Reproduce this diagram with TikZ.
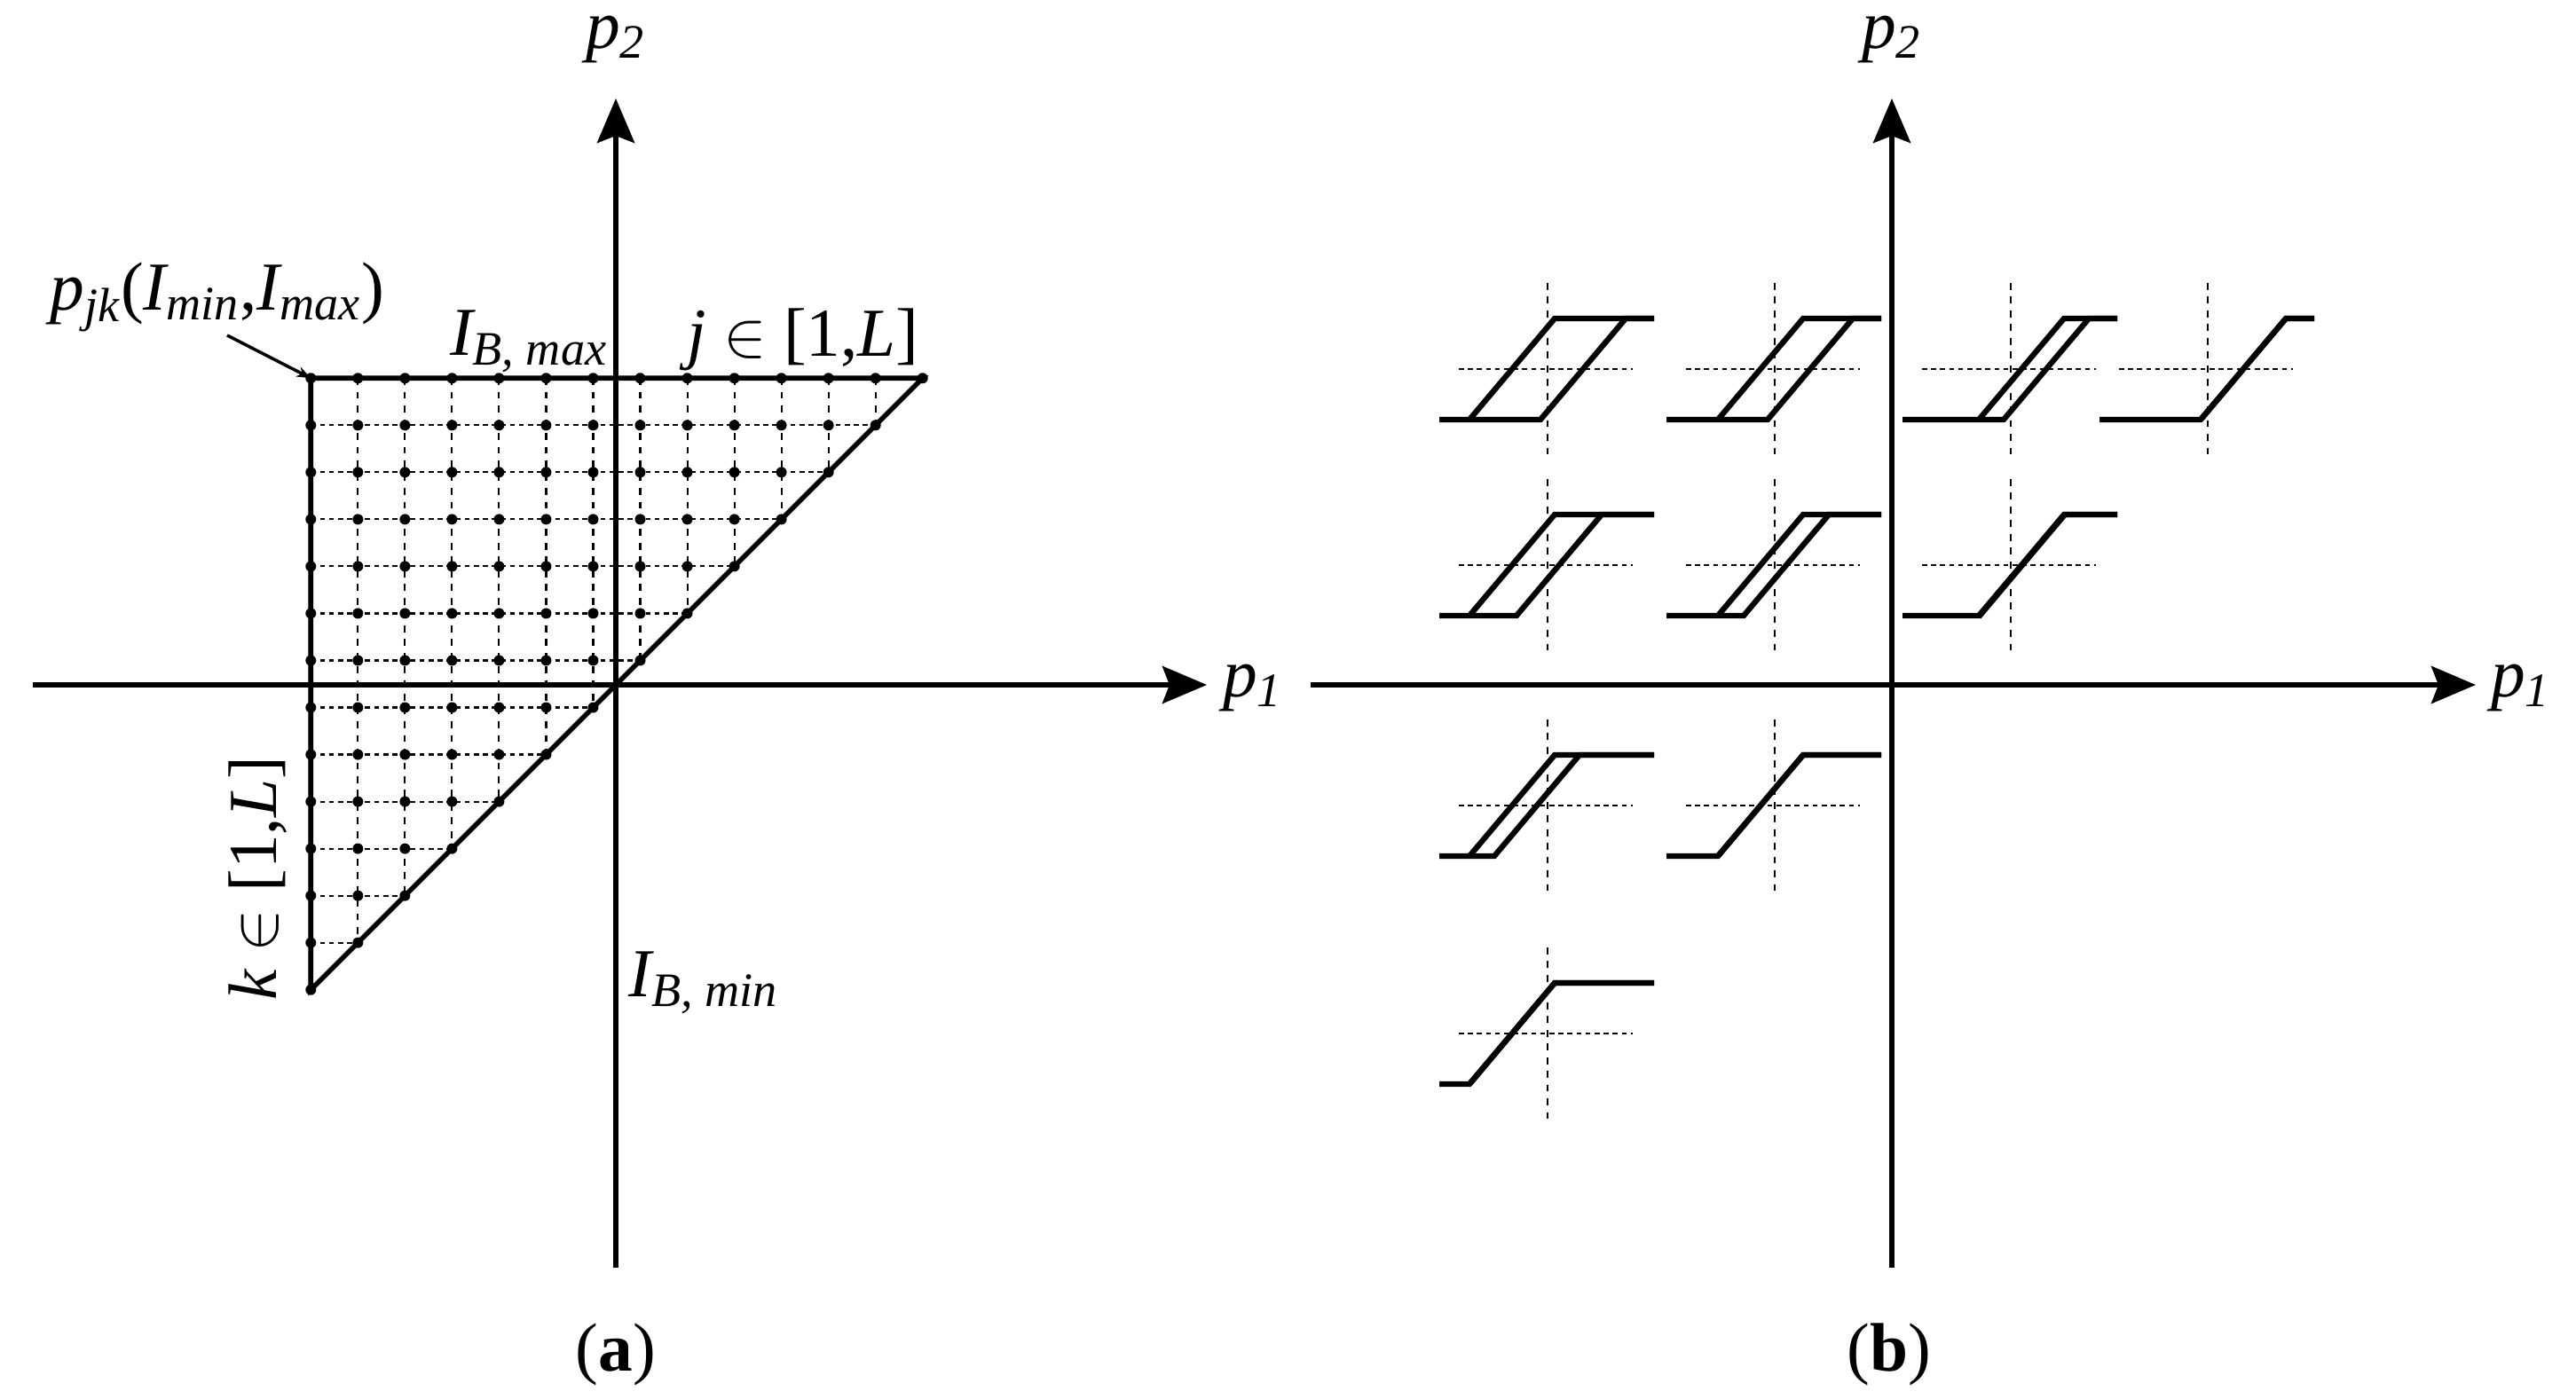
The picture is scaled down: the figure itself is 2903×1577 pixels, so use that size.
\documentclass[tikz,border=0pt]{standalone}
\usepackage{fontspec}
\setmainfont{Liberation Serif}
\usetikzlibrary{arrows.meta}
\newcommand{\up}[1]{{\upshape #1}}
\newcommand{\hloop}[4]{%
  \draw[thinv] (#1,{#2-97}) -- (#1,{#2+97});
  \draw[thinh] ({#1-100},#2) -- ({#1+96},#2);
  \draw[curve] ({#1-122},{#2+57}) -- ({#1+(#4)-48},{#2+57}) -- ({#1+(#4)+48},{#2-57}) -- ({#1+120},{#2-57});
  \draw[curve] ({#1+(#3)-48},{#2+57}) -- ({#1+(#3)+48},{#2-57}) -- ({#1+120},{#2-57});
}
\begin{document}
\begin{tikzpicture}[x=0.01cm,y=-0.01cm,
  axis/.style={line width=1.6pt,-{Stealth[length=0.5cm,width=0.42cm,inset=0.08cm]}},
  solid line/.style={line width=1.6pt},
  curve/.style={line width=1.8pt,line join=miter},
  thinv/.style={line width=0.6pt,dash pattern=on 2.2pt off 2.2pt},
  thinh/.style={line width=0.6pt,dash pattern=on 1.6pt off 1.3pt},
  lbl/.style={font=\fontsize{22}{26}\selectfont\itshape,inner sep=0pt}]
\useasboundingbox (0,0) rectangle (2903,1577);
% ---- panel (a)
\draw[axis] (694,1429) -- (694,111);
\draw[axis] (37,772) -- (1360,772);
\begin{scope}[shift={(695,771)},x=0.53cm,y=0.53cm]
  \foreach \m in {-5,...,6}{
    \pgfmathsetmacro\i{\m-0.5}
    \draw[thinv] (\i,6.5) -- (\i,\i);
    \draw[thinh] (-6.5,\i) -- (\i,\i);
  }
  \draw[solid line] (-6.5,-6.5) -- (-6.5,6.5) -- (6.5,6.5) -- cycle;
  \foreach \m in {-6,...,7}{
    \foreach \n in {\m,...,7}{
      \pgfmathsetmacro\i{\m-0.5}
      \pgfmathsetmacro\j{\n-0.5}
      \fill (\i,\j) circle (0.06cm);
    }
  }
  \coordinate (corner) at (-6.5,6.5);
\end{scope}
\node[lbl] (p2a) at (694,45) {p\textsubscript{2}};
\node[lbl] (p1a) at (1412,776) {p\textsubscript{1}};
\node[lbl] (pjk) at (245,335) {p\textsubscript{jk}\up{(}I\textsubscript{min}\up{,}I\textsubscript{max}\up{)}};
\coordinate (ps) at (256,378);
\draw[line width=1pt,-{Stealth[length=0.16cm,width=0.12cm]}] (ps) -- (corner);
\node[lbl] (ibmax) at (596,385) {I\textsubscript{B, max}};
\node[lbl] (jl) at (905,383) {j \up{$\in$ [1,}L\up{]}};
\node[lbl,rotate=90] (kl) at (291,990) {k \up{$\in$ [1,}L\up{]}};
\node[lbl] (ibmin) at (793,1108) {I\textsubscript{B, min}};
\node[font=\fontsize{22}{26}\selectfont] (a) at (694,1527) {(\textbf{a})};
% ---- panel (b)
\draw[axis] (2132,1429) -- (2132,111);
\draw[axis] (1477,772) -- (2790,772);
\node[lbl] (p2b) at (2132,45) {p\textsubscript{2}};
\node[lbl] (p1b) at (2841,776) {p\textsubscript{1}};
\node[font=\fontsize{22}{26}\selectfont] (b) at (2129,1527) {(\textbf{b})};
\hloop{1744}{416}{-40}{40}
\hloop{2000}{416}{-16}{40}
\hloop{2266}{416}{12}{40}
\hloop{2488}{416}{40}{40}
\hloop{1744}{637}{-40}{13}
\hloop{2000}{637}{-16}{13}
\hloop{2266}{637}{12}{13}
\hloop{1744}{908}{-40}{-12}
\hloop{2000}{908}{-16}{-16}
\hloop{1744}{1165}{-40}{-40}
\end{tikzpicture}
\end{document}
